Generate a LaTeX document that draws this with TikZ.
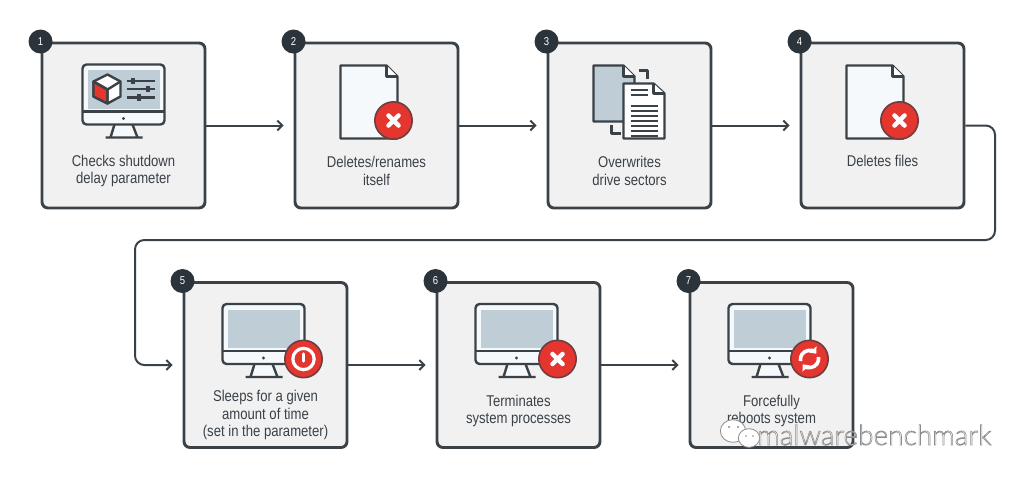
\documentclass[tikz,border=0pt]{standalone}
\usepackage{fontspec}
\setmainfont[FakeStretch=.84]{Liberation Sans}
\newfontfamily\markfont{Lato Light}
\usetikzlibrary{positioning,arrows.meta}
\definecolor{ink}{HTML}{3A4147}
\definecolor{badge}{HTML}{2B333B}
\definecolor{panel}{HTML}{F1F1F2}
\definecolor{screen}{HTML}{BFCED6}
\definecolor{glass}{HTML}{F5F9FB}
\definecolor{alert}{HTML}{E5352F}
\newcommand{\hollowtext}[1]{\special{pdf:code q 2 Tr 0.45 w 0.55 G 1 g}#1\special{pdf:code Q}}
\tikzset{
  stepbox/.style={draw=ink,fill=panel,line width=2.2pt,rounded corners=4.5pt,minimum width=122.25pt,minimum height=123.75pt},
  stepnum/.style={circle,fill=badge,text=white,minimum size=18pt,inner sep=0pt,font=\fontsize{8.5}{9}\selectfont},
  steptext/.style={text=ink,align=center,font=\fontsize{11.7}{13.4}\selectfont},
  flow/.style={draw=ink,line width=1.5pt,shorten >=7.5pt,-{Straight Barb[length=3.6pt,width=7.5pt]}},
  icon/.style={draw=ink,line width=1.8pt,line join=round},
  monitor/.pic={
    \fill[glass] (-9,-1)--(-13,12)--(14,12)--(9,-1)--cycle;
    \draw[icon] (-9,-1)--(-13,12) (9,-1)--(14,12) (-18,12)--(19,12);
    \draw[icon,fill=glass,rounded corners=3pt] (-41,-61) rectangle (41,-1);
    \fill[screen] (-36,-55) rectangle (36,-17);
    \draw[icon] (-41,-14)--(41,-14);
    \fill[ink] (0,-7) circle (1.3pt);
  },
  sheet/.pic={
    \draw[icon,fill=glass] (-36,-60)--(10,-60)--(21,-49)--(21,13)--(-36,13)--cycle;
    \draw[icon,fill=white] (10,-60)--(10,-49)--(21,-49);
  },
  crossmark/.pic={
    \draw[draw=ink!70!alert,fill=alert,line width=1.2pt] (0,0) circle (14pt);
    \draw[white,line width=3.4pt,line cap=round] (-5,-5)--(5,5) (-5,5)--(5,-5);
  },
  powermark/.pic={
    \draw[draw=ink!70!alert,fill=alert,line width=1.2pt] (0,0) circle (14pt);
    \draw[white,line width=2.4pt] (0,0) circle (8pt);
    \draw[white,line width=2.4pt,line cap=round] (0,-5)--(0,2);
  },
  refreshmark/.pic={
    \draw[draw=ink!70!alert,fill=alert,line width=1.2pt] (0,0) circle (14pt);
    \draw[white,line width=2.7pt,-{Triangle[length=4pt,width=7pt]}] (-9,2) arc (170:320:9);
    \draw[white,line width=2.7pt,-{Triangle[length=4pt,width=7pt]}] (9,-2) arc (-10:140:9);
  },
}
\begin{document}
\begin{tikzpicture}[x=.75pt,y=-.75pt]
\useasboundingbox (0,0) rectangle (1024,478);
\foreach \n/\x/\y/\ly/\txt in {
  1/123.5/125.5/171/{Checks shutdown\\delay parameter},
  2/376.5/125.5/171/{Deletes/renames\\itself},
  3/629.5/125.5/171/{Overwrites\\drive sectors},
  4/882.5/125.5/161/{Deletes files},
  5/265.5/365/415/{Sleeps for a given\\amount of time\\(set in the parameter)},
  6/518.5/365/411/{Terminates\\system processes},
  7/771.5/365/411/{Forcefully\\reboots system}}{
  \node[stepbox] (b\n) at (\x,\y) {};
  \node[steptext] (t\n) at (\x,\ly) {\txt};
  \node[stepnum] (n\n) at (b\n.north west) {\n};
}
% settings screen
\pic at (b1) {monitor};
\begin{scope}[shift={(b1)}]
\draw[icon,fill=white] (-16,-51)--(-3,-44)--(-3,-29)--(-16,-22)--(-30,-29)--(-30,-44)--cycle;
\draw[icon,fill=alert] (-30,-44)--(-16,-36)--(-16,-22)--(-30,-29)--cycle;
\draw[icon] (-30,-44)--(-16,-36)--(-3,-44) (-16,-36)--(-16,-22);
\foreach \ry/\kx in {-44/9,-36/24,-28/15}{
  \draw[ink,line width=1.5pt] (3,\ry)--(31,\ry);
  \fill[ink] (\kx-2,\ry-3) rectangle (\kx+2,\ry+3);
}
\end{scope}
\pic at (b2) {sheet};
\pic at ([shift={(17,-5)}]b2) {crossmark};
% overwritten sheets
\begin{scope}[shift={(b3)}]
\draw[icon,fill=screen] (-36,-60)--(-6,-60)--(5,-49)--(5,-4)--(-36,-4)--cycle;
\draw[icon,fill=white] (-6,-60)--(-6,-49)--(5,-49);
\draw[icon] (9,-55)--(18,-55)--(18,-46) (-18,-1)--(-18,8)--(-9,8);
\draw[icon,fill=white] (-6,-42)--(24,-42)--(35,-32)--(35,13)--(-6,13)--cycle;
\draw[icon,fill=white] (24,-42)--(24,-32)--(35,-32);
\foreach \ry in {-35,-30}{\draw[ink,line width=1.5pt] (1,\ry)--(18,\ry);}
\foreach \ry in {-20,-15,...,10}{\draw[ink,line width=1.5pt] (1,\ry)--(28,\ry);}
\end{scope}
\pic at (b4) {sheet};
\pic at ([shift={(17,-5)}]b4) {crossmark};
\pic at ([shift={(-2,0)}]b5) {monitor};
\pic at ([shift={(38,-6)}]b5) {powermark};
\pic at ([shift={(-2,0)}]b6) {monitor};
\pic at ([shift={(39,-6)}]b6) {crossmark};
\pic at ([shift={(-2,0)}]b7) {monitor};
\pic at ([shift={(38,-6)}]b7) {refreshmark};
% connectors
\coordinate (turnA) at (995,240);
\coordinate (turnB) at (135,240);
\draw[flow] (b1)--(b2);
\draw[flow] (b2)--(b3);
\draw[flow] (b3)--(b4);
\draw[flow,rounded corners=7pt] (b4.east)-|(turnA)--(turnB)|-(b5.west);
\draw[flow] (b5)--(b6);
\draw[flow] (b6)--(b7);
% watermark
\draw[gray!90,fill=white,line width=.6pt] (733,431) ellipse (9.5pt and 8.5pt);
\draw[gray!90,fill=white,line width=.6pt] (749,438) ellipse (8pt and 7pt);
\fill[gray!90] (729,427) circle (.9pt) (738,427) circle (.9pt) (746,436) circle (.7pt) (753,436) circle (.7pt);
\node[anchor=west,inner sep=0pt,font=\markfont\fontsize{21}{22}\selectfont] (mark) at (757,435) {\hollowtext{malwarebenchmark}};
\end{tikzpicture}
\end{document}
